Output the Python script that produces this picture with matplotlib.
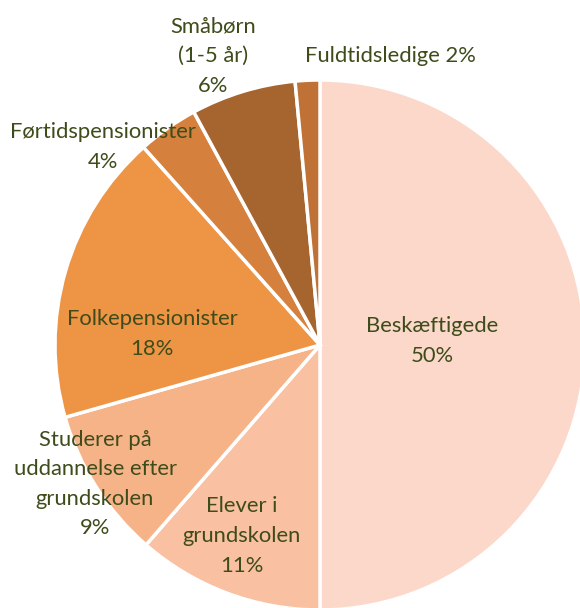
import matplotlib
matplotlib.use("Agg")
import matplotlib.pyplot as plt

categories = ["Beskæftigede", "Elever i\ngrundskolen", "Studerer på\nuddannelse efter\ngrundskolen",
              "Folkepensionister", "Førtidspensionister", "Småbørn\n(1-5 år)", "Fuldtidsledige"]
values = [50.0, 11.4, 9.2, 17.8, 3.7, 6.4, 1.5]
colors = ["#FBD8C9", "#F9C0A1", "#F7B388", "#EE9445", "#D5803C", "#A6642F", "#BF7136"]

# label layout (pixel centres in the 580x608 canvas)
label_px = [(432, 341), (242, 536), (95, 484), (152, 334), (103, 147), (213, 56), (390, 56)]
label_sep = ["\n", "\n", "\n", "\n", "\n", "\n", " "]

W, H = 580, 608
CX, CY, R = 320, 345, 265

fig = plt.figure(figsize=(W / 100, H / 100), dpi=100)
ax = fig.add_axes([0, 0, 1, 1])
ax.pie(values, colors=colors, startangle=90, counterclock=False, radius=1.0,
       wedgeprops=dict(edgecolor="white", linewidth=2.5))
ax.set_xlim((0 - CX) / R, (W - CX) / R)
ax.set_ylim((CY - H) / R, CY / R)
ax.set_aspect("equal")
ax.axis("off")

for cat, v, (px, py), sep in zip(categories, values, label_px, label_sep):
    txt = f"{cat}{sep}{round(v)}%"
    ax.text((px - CX) / R, (CY - py) / R, txt, ha="center", va="center",
            fontsize=15.8, family=["Lato", "DejaVu Sans"], color="#3E4C1B",
            linespacing=1.6)

fig.savefig("out.png", dpi=100)
